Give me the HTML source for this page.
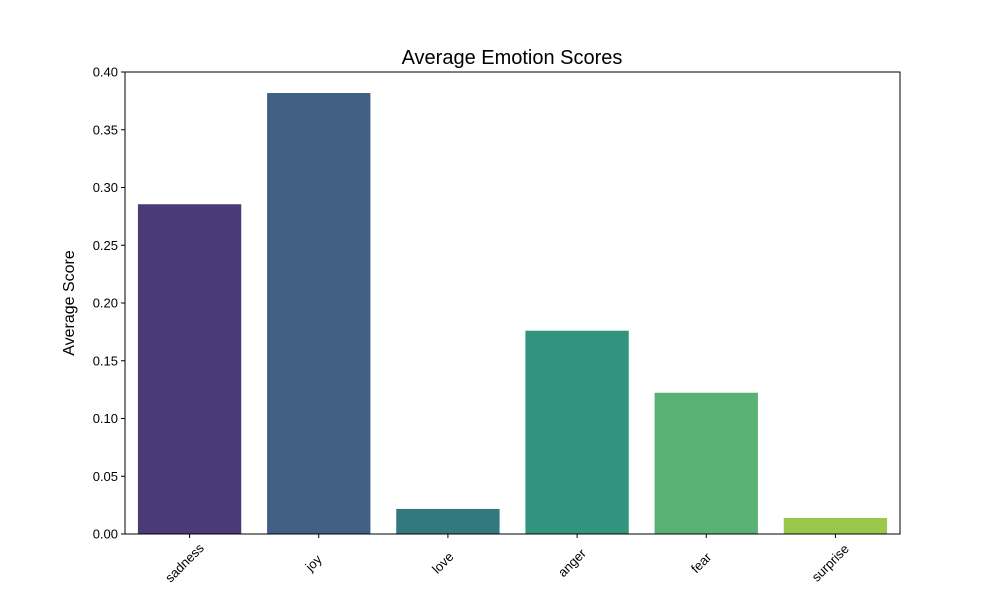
<!DOCTYPE html>
<html><head><meta charset="utf-8"><style>
body{margin:0;background:#fff}
svg{display:block;font-family:"Liberation Sans","DejaVu Sans",sans-serif}
</style></head><body>
<svg id="chart" width="1000" height="600">
<text x="512" y="64" text-anchor="middle" font-size="20">Average Emotion Scores</text>
<text transform="translate(74,303) rotate(-90)" text-anchor="middle" font-size="16">Average Score</text>
<text x="522" y="612" text-anchor="middle" font-size="16">Emotion</text>
<g id="bars"></g><g id="yticks"></g><g id="xticks"></g>
<rect x="125" y="72" width="775" height="462" fill="none" stroke="#000" stroke-width="1"/>
</svg>
<script>
const categories=["sadness","joy","love","anger","fear","surprise"];
const values=[0.2855,0.3818,0.0217,0.176,0.1223,0.0139];
const colors=["#4a3b76","#416083","#33777f","#32937f","#59b174","#9bc84a"];
const yTicks=[0,0.05,0.1,0.15,0.2,0.25,0.3,0.35,0.4];
const yTickLabels=["0.00","0.05","0.10","0.15","0.20","0.25","0.30","0.35","0.40"];
const L=125,R=900,T=72,B=534,ymax=0.4;
const NS="http://www.w3.org/2000/svg";
function y(v){return B-(v/ymax)*(B-T);}
const band=(R-L)/categories.length;
function x(i){return L+band*(i+0.5);}
function mk(tag,attrs,parent){const e=document.createElementNS(NS,tag);for(const k in attrs)e.setAttribute(k,attrs[k]);parent.appendChild(e);return e;}
const gb=document.getElementById('bars'),gy=document.getElementById('yticks'),gx=document.getElementById('xticks');
categories.forEach((c,i)=>{
 const w=band*0.8;
 const r=mk('rect',{x:x(i)-w/2,y:y(values[i]),width:w,height:B-y(values[i]),fill:colors[i]},gb);
 
 
 const t=mk('line',{x1:x(i),x2:x(i),y1:B,y2:B+4,stroke:'#000'},gx);
 
 
 const lb=mk('text',{transform:`translate(${x(i)-2},${B+32}) rotate(-45)`,'text-anchor':'middle','font-size':'13'},gx);
 lb.textContent=c;
 
 
});
yTicks.forEach((v,i)=>{
 const t=mk('line',{x1:L-4,x2:L,y1:y(v),y2:y(v),stroke:'#000'},gy);
 
 
 const lb=mk('text',{x:L-7,y:y(v)+4.5,'text-anchor':'end','font-size':'13'},gy);
 lb.textContent=yTickLabels[i];
 
 
});
</script>
</body></html>
